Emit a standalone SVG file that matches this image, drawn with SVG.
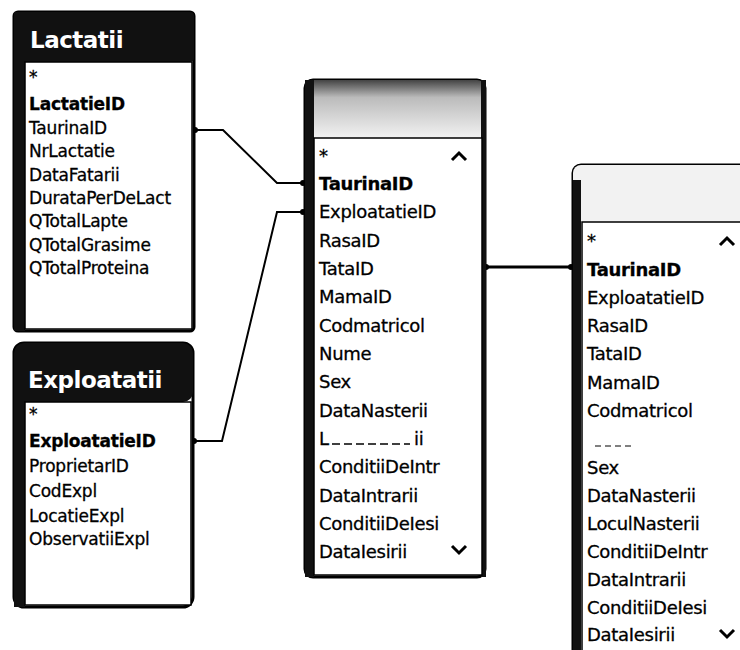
<svg xmlns="http://www.w3.org/2000/svg" width="740" height="650" viewBox="0 0 740 650">
<defs>
<style>
.frame{fill:#fff;stroke:#000;stroke-width:3}
.body{fill:#fff;stroke:#000;stroke-width:1.5}
.lbar{fill:#111}
.t{font-family:"DejaVu Sans","Liberation Sans",sans-serif;font-size:17px;fill:#000;stroke:#000;stroke-width:0.3;letter-spacing:-0.2px}
.tb{font-weight:bold}
.big{font-size:18px;letter-spacing:-0.3px}
.title{font-family:"DejaVu Sans","Liberation Sans",sans-serif;font-weight:bold;font-size:23px;fill:#fff;letter-spacing:-0.5px}
.conn{fill:none;stroke:#000;stroke-width:2}
.chev{fill:none;stroke:#000;stroke-width:3;stroke-linejoin:miter}
</style>
<marker id="dot" markerWidth="8" markerHeight="8" refX="4" refY="4" markerUnits="userSpaceOnUse"><circle cx="4" cy="4" r="3" fill="#000"/></marker>
<linearGradient id="gc" x1="0" y1="0" x2="0" y2="1"><stop offset="0" stop-color="#444"/><stop offset="0.3" stop-color="#bbb"/><stop offset="1" stop-color="#f2f2f2"/></linearGradient>
</defs>
<rect width="740" height="650" fill="#fff"/>

<g id="connectors">
<path class="conn" d="M195,130 H223 L277,183 H303" marker-start="url(#dot)" marker-end="url(#dot)"/>
<path class="conn" d="M194,441 H222 L277,212 H303" marker-start="url(#dot)" marker-end="url(#dot)"/>
<path class="conn" style="stroke-width:3" d="M486,267 H571" marker-start="url(#dot)" marker-end="url(#dot)"/>
</g>

<g id="lactatii">
<rect class="frame" x="14" y="12" width="180" height="319" rx="4"/>
<rect class="lbar" x="14" y="12" width="180" height="50" rx="4"/>
<rect class="lbar" x="14" y="12" width="11" height="319"/>
<rect class="body" x="25" y="62" width="167" height="267"/>
<text class="title" x="30" y="48">Lactatii</text>
<text class="t" x="29" y="83">*</text>
<text class="t tb" x="29" y="110">LactatieID</text>
<text class="t" x="29" y="134">TaurinaID</text>
<text class="t" x="29" y="157">NrLactatie</text>
<text class="t" x="29" y="181">DataFatarii</text>
<text class="t" x="29" y="204">DurataPerDeLact</text>
<text class="t" x="29" y="227">QTotalLapte</text>
<text class="t" x="29" y="251">QTotalGrasime</text>
<text class="t" x="29" y="274">QTotalProteina</text>
</g>

<g id="exploatatii">
<rect class="frame" x="14" y="343" width="179" height="264" rx="10"/>
<rect class="lbar" x="14" y="343" width="179" height="59" rx="10"/>
<rect class="lbar" x="14" y="380" width="11" height="227"/>
<rect class="body" x="25" y="402" width="166" height="203"/>
<text class="title" x="28" y="388">Exploatatii</text>
<text class="t" x="29" y="420">*</text>
<text class="t tb" x="29" y="447">ExploatatieID</text>
<text class="t" x="29" y="472">ProprietarID</text>
<text class="t" x="29" y="497">CodExpl</text>
<text class="t" x="29" y="522">LocatieExpl</text>
<text class="t" x="29" y="545">ObservatiiExpl</text>
</g>

<g id="taurine">
<rect class="frame" x="305" y="80" width="180" height="497" rx="8"/>
<rect x="305" y="80" width="180" height="58" rx="8" fill="url(#gc)"/>
<rect x="305" y="80" width="9" height="497" fill="#111"/>
<rect x="481" y="80" width="5" height="497" fill="#111"/>
<rect class="body" x="314" y="138" width="168" height="437"/>
<text class="t big" x="319" y="162">*</text>
<path class="chev" d="M452,160 L459,153 L466,160"/>
<text class="t big tb" x="319" y="190">TaurinaID</text>
<text class="t big" x="319" y="218">ExploatatieID</text>
<text class="t big" x="319" y="247">RasaID</text>
<text class="t big" x="319" y="275">TataID</text>
<text class="t big" x="319" y="303">MamaID</text>
<text class="t big" x="319" y="332">Codmatricol</text>
<text class="t big" x="319" y="360">Nume</text>
<text class="t big" x="319" y="388">Sex</text>
<text class="t big" x="319" y="417">DataNasterii</text>
<text class="t big" x="319" y="445">L</text>
<path d="M332,444 H410" stroke="#000" stroke-width="1.5" stroke-dasharray="8,4"/>
<text class="t big" x="414" y="445">ii</text>
<text class="t big" x="319" y="473">ConditiiDeIntr</text>
<text class="t big" x="319" y="502">DataIntrarii</text>
<text class="t big" x="319" y="530">ConditiiDeIesi</text>
<text class="t big" x="319" y="558">DataIesirii</text>
<path class="chev" d="M452,546 L459,553 L466,546"/>
</g>

<g id="taurine2">
<rect class="frame" x="573" y="165" width="180" height="500" rx="8"/>
<rect x="573" y="165" width="180" height="57" rx="8" fill="#f2f2f2"/>
<rect x="573" y="180" width="8" height="485" fill="#111"/>
<rect class="body" x="582" y="222" width="170" height="440"/>
<text class="t big" x="587" y="247">*</text>
<path class="chev" d="M720,245 L727,238 L734,245"/>
<text class="t big tb" x="587" y="276">TaurinaID</text>
<text class="t big" x="587" y="304">ExploatatieID</text>
<text class="t big" x="587" y="332">RasaID</text>
<text class="t big" x="587" y="360">TataID</text>
<text class="t big" x="587" y="389">MamaID</text>
<text class="t big" x="587" y="417">Codmatricol</text>
<path d="M595,446 H632" stroke="#000" stroke-width="1" stroke-dasharray="6,4"/>
<text class="t big" x="587" y="474">Sex</text>
<text class="t big" x="587" y="502">DataNasterii</text>
<text class="t big" x="587" y="530">LoculNasterii</text>
<text class="t big" x="587" y="558">ConditiiDeIntr</text>
<text class="t big" x="587" y="586">DataIntrarii</text>
<text class="t big" x="587" y="614">ConditiiDeIesi</text>
<text class="t big" x="587" y="641">DataIesirii</text>
<path class="chev" d="M720,630 L727,637 L734,630"/>
</g>
</svg>
